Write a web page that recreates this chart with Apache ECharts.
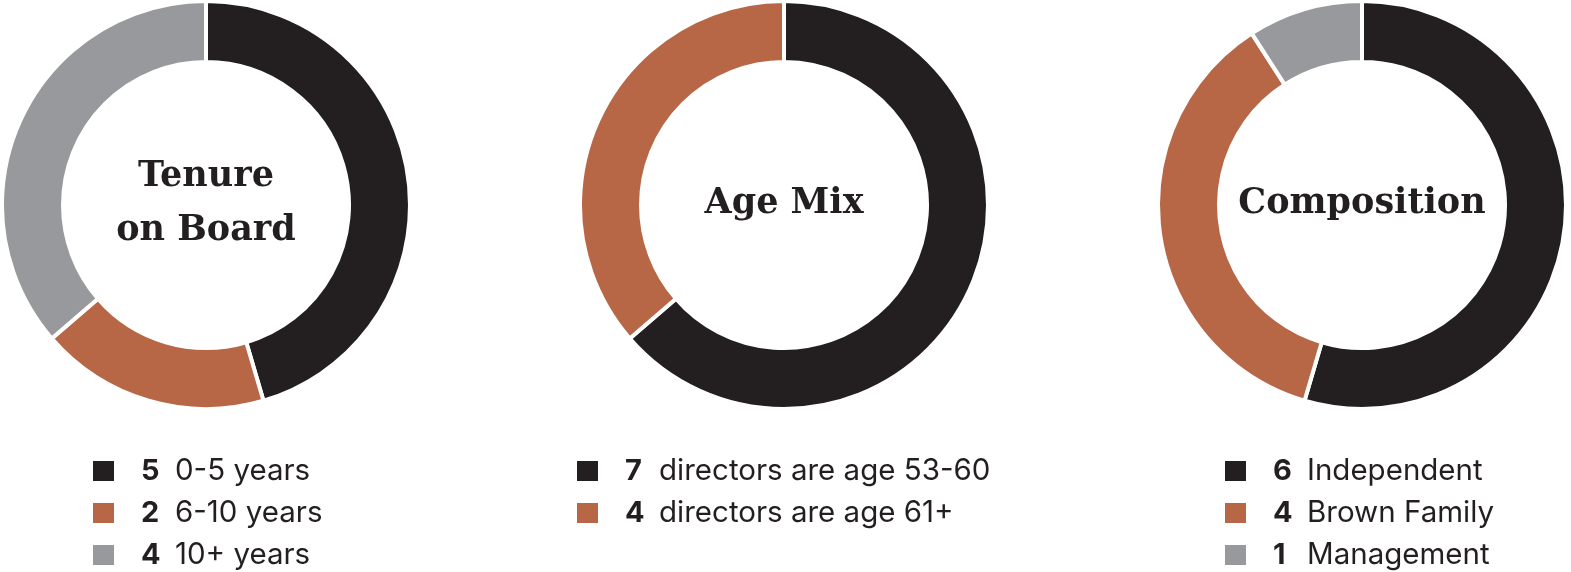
<!DOCTYPE html>
<html>
<head>
<meta charset="utf-8">
<script src="https://cdn.jsdelivr.net/npm/echarts@6/dist/echarts.min.js"></script>
<style>
  html, body { margin: 0; padding: 0; background: #fff; }
  #chart { width: 1571px; height: 572px; }
</style>
</head>
<body>
<div id="chart"></div>
<script>
// data
const tenureNames = ['0-5 years', '6-10 years', '10+ years'];
const tenureValues = [5, 2, 4];
const ageNames = ['directors are age 53-60', 'directors are age 61+'];
const ageValues = [7, 4];
const compNames = ['Independent', 'Brown Family', 'Management'];
const compValues = [6, 4, 1];
const titles = ['Tenure\non Board', 'Age Mix', 'Composition'];

const colors = ['#231f20', '#b76746', '#98999c'];
const ink = '#231f20';

const groups = [
    { names: tenureNames, values: tenureValues, cx: 206, legendLeft: 91 },
    { names: ageNames, values: ageValues, cx: 784, legendLeft: 575 },
    { names: compNames, values: compValues, cx: 1362, legendLeft: 1223 }
];

// name -> value for the legend labels
const valueOf = {};
groups.forEach(g => g.names.forEach((n, i) => { valueOf[n] = g.values[i]; }));

const chart = echarts.init(document.getElementById('chart'));

const option = {
    animation: false,
    color: colors,
    legend: groups.map(g => ({
        data: g.names,
        orient: 'vertical',
        left: g.legendLeft,
        top: 456,
        height: 200,
        padding: 0,
        icon: 'rect',
        itemWidth: 23,
        itemHeight: 22,
        itemGap: 12,
        selectedMode: false,
        formatter: name => '{b|' + valueOf[name] + '}{t|' + name + '}',
        textStyle: {
            lineHeight: 22,
            rich: {
                b: { fontFamily: 'Inter', fontWeight: 'bold', fontSize: 29, color: ink, width: 34, padding: [0, 0, 0, 21], lineHeight: 22 },
                t: { fontFamily: 'Inter', fontSize: 29.5, color: ink, lineHeight: 22 }
            }
        }
    })),
    graphic: groups.map((g, i) => ({
        type: 'text',
        x: g.cx,
        y: 204,
        style: {
            text: titles[i],
            align: 'center',
            verticalAlign: 'middle',
            font: 'bold 35px "DejaVu Serif"',
            lineHeight: 54,
            fill: ink
        }
    })),
    series: groups.map((g, i) => ({
        name: titles[i],
        type: 'pie',
        center: [g.cx, 205],
        radius: [143, 204],
        startAngle: 90,
        clockwise: true,
        label: { show: false },
        labelLine: { show: false },
        emphasis: { scale: false },
        itemStyle: { borderColor: '#fff', borderWidth: 4 },
        data: g.names.map((n, k) => ({ name: n, value: g.values[k], itemStyle: { color: colors[k] } }))
    }))
};

chart.setOption(option);
</script>
</body>
</html>
